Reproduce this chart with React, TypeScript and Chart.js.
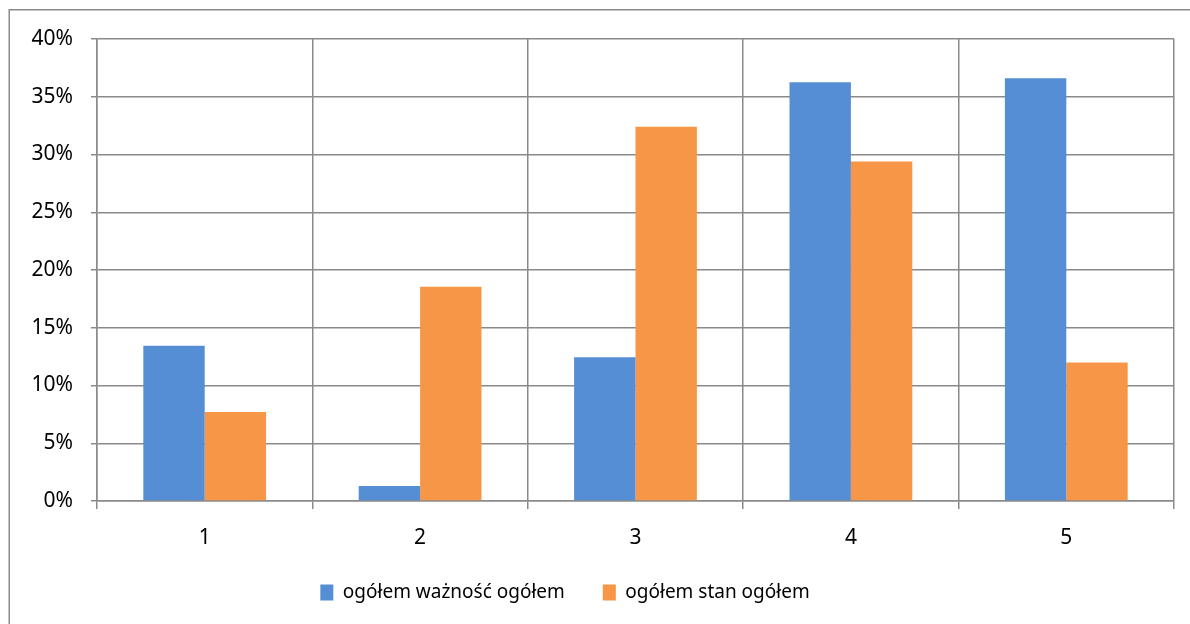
import React, { useEffect, useRef } from "react";
import { Chart, registerables } from "chart.js";

Chart.register(...registerables);

const categories = ["1", "2", "3", "4", "5"];
const seriesNames = ["ogółem ważność ogółem", "ogółem stan ogółem"];
const importanceValues = [13.45, 1.3, 12.45, 36.25, 36.6];
const stateValues = [7.7, 18.55, 32.4, 29.4, 12.0];
const yTickMax = 40;
const yTickStep = 5;

const BLUE = "#558ed5";
const ORANGE = "#f79646";
const GRID = "#8a8a8a";
const FONT = "'Noto Sans', sans-serif";

const outerBorder = {
  id: "outerBorder",
  beforeDraw(chart: any) {
    const ctx = chart.ctx;
    ctx.save();
    ctx.fillStyle = "#ffffff";
    ctx.fillRect(0, 0, chart.width, chart.height);
    ctx.strokeStyle = GRID;
    ctx.lineWidth = 1.5;
    ctx.strokeRect(9.25, 9.75, chart.width + 50, chart.height + 50);
    ctx.restore();
  },
};

const shiftLegend = {
  id: "shiftLegend",
  afterLayout(chart: any) {
    if (chart.legend) {
      chart.legend.right = chart.legend.right - 44;
    }
  },
};

export default function App() {
  const ref = useRef<HTMLCanvasElement | null>(null);
  useEffect(() => {
    if (!ref.current) return;
    const chart = new Chart(ref.current, {
      type: "bar",
      data: {
        labels: categories,
        datasets: [
          {
            label: seriesNames[0],
            data: importanceValues,
            backgroundColor: BLUE,
            categoryPercentage: 0.57,
            barPercentage: 1,
          },
          {
            label: seriesNames[1],
            data: stateValues,
            backgroundColor: ORANGE,
            categoryPercentage: 0.57,
            barPercentage: 1,
          },
        ],
      },
      options: {
        responsive: false,
        animation: false,
        layout: { padding: { top: 39, right: 16, left: 0, bottom: 12 } },
        plugins: {
          legend: {
            position: "bottom",
            labels: {
              boxWidth: 13,
              boxHeight: 16,
              padding: 38,
              color: "#000",
              font: { family: FONT, size: 19 },
            },
          },
          tooltip: { enabled: false },
          title: { display: false },
        },
        scales: {
          x: {
            grid: {
              offset: true,
              color: GRID,
              lineWidth: 1.5,
              drawTicks: true,
              tickLength: 8,
            },
            border: { color: GRID, width: 1.5 },
            ticks: {
              color: "#000",
              font: { family: FONT, size: 21 },
              padding: 16,
            },
            afterFit: (s: any) => {
              s.height = 44;
            },
          },
          y: {
            min: 0,
            max: yTickMax,
            grid: {
              color: GRID,
              lineWidth: 1.5,
              drawTicks: true,
              tickLength: 6,
            },
            border: { color: GRID, width: 1.5 },
            ticks: {
              stepSize: yTickStep,
              color: "#000",
              font: { family: FONT, size: 21 },
              padding: 18,
              callback: (v: any) => v + "%",
            },
            afterFit: (s: any) => {
              s.width = 97;
            },
          },
        },
      },
      plugins: [outerBorder, shiftLegend],
    });
    return () => chart.destroy();
  }, []);
  return (
    <div style={{ position: "fixed", left: 0, top: 0, width: 1190, height: 624, background: "#fff" }}>
      <canvas ref={ref} width={1190} height={624} />
    </div>
  );
}
